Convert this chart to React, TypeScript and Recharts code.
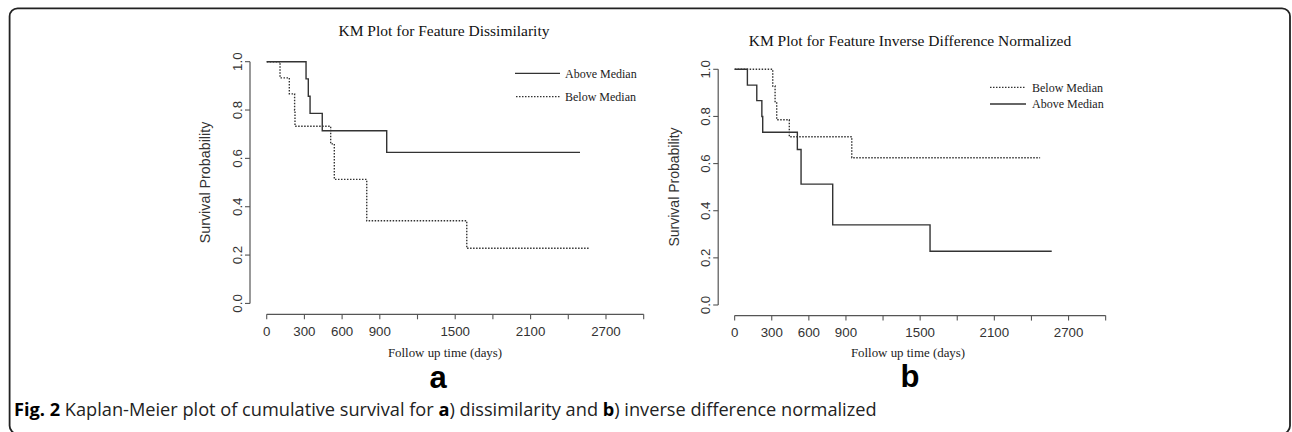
import React from 'react';
import { LineChart, Line, XAxis, YAxis, ReferenceLine } from 'recharts';

// Axis ticks (days / survival probability)
const xTicks = [0, 300, 600, 900, 1200, 1500, 1800, 2100, 2400, 2700, 3000];
const xTickLabels = ['0', '300', '600', '900', '', '1500', '', '2100', '', '2700', ''];
const yTicks = [0, 0.2, 0.4, 0.6, 0.8, 1.0];
const yTickLabels = ['0.0', '0.2', '0.4', '0.6', '0.8', '1.0'];

// Panel a: Feature Dissimilarity
const aAboveDays = [0, 313, 331, 345, 442, 955, 2493];
const aAboveSurv = [1, 0.929, 0.857, 0.786, 0.714, 0.625, 0.625];
const aBelowDays = [0, 106, 180, 222, 225, 509, 538, 796, 1592, 2573];
const aBelowSurv = [1, 0.933, 0.867, 0.8, 0.733, 0.66, 0.513, 0.342, 0.228, 0.228];

// Panel b: Feature Inverse Difference Normalized
const bBelowDays = [0, 308, 327, 340, 442, 947, 2470];
const bBelowSurv = [1, 0.929, 0.857, 0.786, 0.714, 0.625, 0.625];
const bAboveDays = [0, 103, 179, 220, 227, 507, 537, 793, 1580, 2564];
const bAboveSurv = [1, 0.933, 0.867, 0.8, 0.733, 0.66, 0.513, 0.34, 0.228, 0.228];

const toRows = (days: number[], surv: number[]) => days.map((t, i) => ({ t, s: surv[i] }));

const SANS = '"Liberation Sans", Arial, Helvetica, sans-serif';
const SERIF = '"Liberation Serif", "Times New Roman", Times, serif';
const LINE = '#333';
const AXIS = '#555';

const YTick = (props: any) => {
  const { x, y, payload } = props;
  const i = yTicks.indexOf(payload.value);
  const label = i >= 0 ? yTickLabels[i] : '';
  return (
    <text x={x} y={y} transform={`rotate(-90 ${x} ${y})`} textAnchor="middle"
      fontFamily={SANS} fontSize={13.3} fill="#333">{label}</text>
  );
};

type Series = { days: number[]; surv: number[]; dotted: boolean };

const KMPanel = ({ width, height, margin, series, xTickMargin }: any) => (
  <LineChart width={width} height={height} margin={margin}>
    <XAxis type="number" dataKey="t" domain={[-133, 3133]} ticks={xTicks} interval={0}
      allowDataOverflow axisLine={false} tickLine={{ stroke: AXIS, strokeWidth: 1.1 }}
      tickSize={5} tickMargin={xTickMargin} height={30}
      tickFormatter={(v: number) => { const i = xTicks.indexOf(v); return i >= 0 ? xTickLabels[i] : ''; }}
      tick={{ fontFamily: SANS, fontSize: 13.3, fill: '#333' }} />
    <YAxis type="number" domain={[-0.045, 1.045]} ticks={yTicks} interval={0}
      allowDataOverflow axisLine={false} tickLine={{ stroke: AXIS, strokeWidth: 1.1 }}
      tickSize={5} tickMargin={3} width={40} tick={<YTick />} />
    <ReferenceLine segment={[{ x: 0, y: -0.045 }, { x: 3000, y: -0.045 }]} stroke={AXIS} strokeWidth={1.2} ifOverflow="visible" />
    <ReferenceLine segment={[{ x: -133, y: 0 }, { x: -133, y: 1 }]} stroke={AXIS} strokeWidth={1.2} ifOverflow="visible" />
    {series.map((s: Series, k: number) => (
      <Line key={k} data={toRows(s.days, s.surv)} dataKey="s" type="stepAfter" stroke={LINE}
        strokeWidth={1.4} strokeDasharray={s.dotted ? '1.5 1.5' : undefined}
        dot={false} activeDot={false} isAnimationActive={false} />
    ))}
  </LineChart>
);

export default function App() {
  return (
    <div style={{ position: 'absolute', left: 0, top: 0, width: 1292, height: 432, background: '#fff', overflow: 'hidden' }}>
      <div style={{ position: 'absolute', left: 0, top: 0 }}>
        <KMPanel width={700} height={432} xTickMargin={7}
          margin={{ top: 50.8, left: 210, right: 39.6, bottom: 87.7 }}
          series={[
            { days: aAboveDays, surv: aAboveSurv, dotted: false },
            { days: aBelowDays, surv: aBelowSurv, dotted: true },
          ]} />
      </div>
      <div style={{ position: 'absolute', left: 640, top: 0 }}>
        <KMPanel width={652} height={432} xTickMargin={7}
          margin={{ top: 58.7, left: 38.2, right: 169.9, bottom: 86.4 }}
          series={[
            { days: bBelowDays, surv: bBelowSurv, dotted: true },
            { days: bAboveDays, surv: bAboveSurv, dotted: false },
          ]} />
      </div>
      <svg width={1292} height={432} style={{ position: 'absolute', left: 0, top: 0, pointerEvents: 'none' }}>
        <rect x={9.6} y={8.3} width={1280.4} height={425.5} rx={8} ry={8} fill="none" stroke="#222" strokeWidth={1.8} />
        {/* Panel a texts */}
        <text x={444} y={36} textAnchor="middle" fontFamily={SERIF} fontSize={15.5} fill="#111">KM Plot for Feature Dissimilarity</text>
        <text x={210} y={182.5} transform="rotate(-90 210 182.5)" textAnchor="middle" fontFamily={SANS} fontSize={14.3} fill="#333">Survival Probability</text>
        <text x={445} y={357} textAnchor="middle" fontFamily={SERIF} fontSize={12.9} fill="#222">Follow up time (days)</text>
        <line x1={515} x2={560} y1={73.3} y2={73.3} stroke={LINE} strokeWidth={1.3} />
        <text x={565} y={77.5} fontFamily={SERIF} fontSize={12} fill="#222">Above Median</text>
        <line x1={516} x2={560} y1={96.7} y2={96.7} stroke={LINE} strokeWidth={1.3} strokeDasharray="1.5 1.5" />
        <text x={565} y={100.9} fontFamily={SERIF} fontSize={12} fill="#222">Below Median</text>
        <text x={438} y={388} textAnchor="middle" fontFamily={SANS} fontWeight="bold" fontSize={31} fill="#000">a</text>
        {/* Panel b texts */}
        <text x={910} y={46} textAnchor="middle" fontFamily={SERIF} fontSize={15.5} fill="#111">KM Plot for Feature Inverse Difference Normalized</text>
        <text x={679} y={187} transform="rotate(-90 679 187)" textAnchor="middle" fontFamily={SANS} fontSize={14} fill="#333">Survival Probability</text>
        <text x={908} y={357} textAnchor="middle" fontFamily={SERIF} fontSize={12.9} fill="#222">Follow up time (days)</text>
        <line x1={990} x2={1026} y1={87.3} y2={87.3} stroke={LINE} strokeWidth={1.3} strokeDasharray="1.5 1.5" />
        <text x={1032} y={91.5} fontFamily={SERIF} fontSize={12} fill="#222">Below Median</text>
        <line x1={990} x2={1026} y1={104} y2={104} stroke={LINE} strokeWidth={1.3} />
        <text x={1032} y={108.2} fontFamily={SERIF} fontSize={12} fill="#222">Above Median</text>
        <text x={910} y={387} textAnchor="middle" fontFamily={SANS} fontWeight="bold" fontSize={31} fill="#000">b</text>
        {/* Caption */}
        <text x={14} y={416} fontFamily='"Open Sans", "Noto Sans", sans-serif' fontSize={18.2} fill="#222">
          <tspan fontWeight="bold" fill="#000">Fig. 2</tspan>
          <tspan> Kaplan-Meier plot of cumulative survival for </tspan>
          <tspan fontWeight="bold" fill="#000">a</tspan>
          <tspan>) dissimilarity and </tspan>
          <tspan fontWeight="bold" fill="#000">b</tspan>
          <tspan>) inverse difference normalized</tspan>
        </text>
      </svg>
    </div>
  );
}
